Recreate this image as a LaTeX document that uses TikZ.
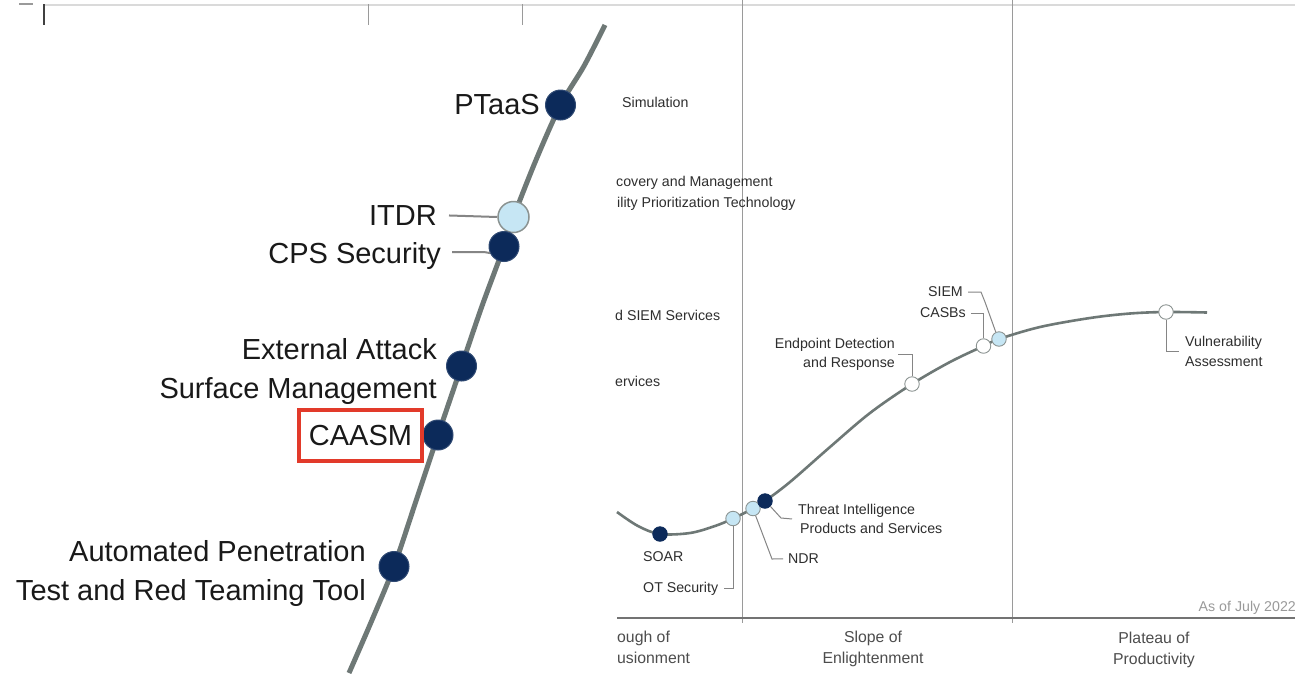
\documentclass[tikz,border=0pt]{standalone}
\usepackage{fontspec}
\setmainfont{Liberation Sans}
\definecolor{navy}{HTML}{0C2A5A}
\definecolor{lblue}{HTML}{C6E6F4}
\definecolor{curvegray}{HTML}{6E7876}
\definecolor{txt}{HTML}{2E2E2E}
\definecolor{gridgray}{HTML}{9A9A9A}
\definecolor{leadgray}{HTML}{858585}
\definecolor{boxred}{HTML}{E23A2A}
\definecolor{topline}{HTML}{DADADA}
\tikzset{
  sm/.style={font=\fontsize{14.2}{19.5}\selectfont, text=txt, inner sep=0pt},
  phase/.style={font=\fontsize{15.8}{20.5}\selectfont, text=txt!85!white, inner sep=0pt},
  bigtxt/.style={font=\fontsize{29}{39}\selectfont, text=black!90, inner sep=0pt},
  sdot/.style={circle, minimum size=14.5pt, inner sep=0pt, line width=0.9pt, draw=curvegray!80},
  ddot/.style={sdot, fill=navy, draw=navy},
  ldot/.style={sdot, fill=lblue},
  wdot/.style={sdot, fill=white},
  bdot/.style={circle, minimum size=30pt, inner sep=0pt, fill=navy, draw=navy!85!white, line width=1pt},
  bldot/.style={circle, minimum size=31pt, inner sep=0pt, fill=lblue, draw=curvegray!80, line width=1.5pt},
  leadline/.style={draw=leadgray, line width=1pt},
  bigleadline/.style={draw=leadgray, line width=2pt},
  gridline/.style={draw=gridgray, line width=1.1pt},
}
\begin{document}
\begin{tikzpicture}[x=1pt,y=-1pt]
\useasboundingbox (0,0) rectangle (1295,673);
\fill[white] (0,0) rectangle (1295,673);

% ---- top strip (table border) ----
\draw[topline, line width=2.5pt] (44,5) -- (1295,5);
\draw[gridgray, line width=2.5pt] (19,4) -- (33,4);
\draw[black!75, line width=1.3pt] (44,4) -- (44,25);
\draw[gridgray, line width=1pt] (368,4) -- (368,25);
\draw[gridgray, line width=1pt] (522,4) -- (522,25);

% ---- right panel: phase grid ----
\draw[gridline] (742.5,0) -- (742.5,623);
\draw[gridline] (1012.5,0) -- (1012.5,623);
\draw[draw=black!55, line width=1.3pt] (617,618) -- (1295,618);

% phase labels
\node[phase, anchor=north west, align=left] (trough) at (617,631.2) {ough of\\usionment};
\node[phase, anchor=north, align=center] (slope) at (873,631.2) {Slope of\\Enlightenment};
\node[phase, anchor=north, align=center] (plateau) at (1154,632) {Plateau of\\Productivity};
\node[sm, anchor=north east, text=gridgray] (asof) at (1296,600.8) {As of July 2022};

% cropped labels at the left edge
\node[sm, anchor=north west] (frA) at (622,96.8) {Simulation};
\node[sm, anchor=north west] (frB) at (616,175.8) {covery and Management};
\node[sm, anchor=north west] (frC) at (617,196.8) {ility Prioritization Technology};
\node[sm, anchor=north west] (frD) at (615,309.8) {d SIEM Services};
\node[sm, anchor=north west] (frE) at (615,375.8) {ervices};

% hype curve
\draw[curvegray, line width=2.6pt] plot[smooth, tension=0.55] coordinates {
  (617,512) (638,526) (660,534) (690,533) (715,526) (733,518.5) (753,508.5)
  (765,501) (790,482) (830,447) (870,413) (912,384) (950,362) (983.5,346)
  (999,339) (1040,327) (1090,318) (1130,313.5) (1166,312) (1207,312.5)};

% dots
\node[ddot] (soar) at (660,534) {};
\node[ldot] (ot) at (733,518.5) {};
\node[ldot] (ndr) at (753,508.5) {};
\node[ddot] (ti) at (765,501) {};
\node[wdot] (edr) at (912,384) {};
\node[wdot] (casb) at (983.5,346) {};
\node[ldot] (siem) at (999,339) {};
\node[wdot] (va) at (1166,312) {};

% labels
\node[sm, anchor=north west] (soarlab) at (643,551.8) {SOAR};
\node[sm, anchor=north west] (otlab) at (643,581.8) {OT Security};
\node[sm, anchor=north west] (ndrlab) at (788,553.8) {NDR};
\node[sm, anchor=north west, align=left] (tilab) at (798,503.8) {Threat Intelligence\\\hspace*{2pt}Products and Services};
\node[sm, anchor=north east, align=right] (edrlab) at (895,337.8) {Endpoint Detection\\and Response};
\node[sm, anchor=north east] (siemlab) at (963,286.8) {SIEM};
\node[sm, anchor=north east] (casblab) at (966,307.8) {CASBs};
\node[sm, anchor=north west, align=left] (valab) at (1185,336.3) {Vulnerability\\Assessment};

% leaders
\draw[leadline] ([xshift=6pt]otlab.east) -| (ot.south);
\draw[leadline] (ndr.-70) -- (772,559) -- ([xshift=-5pt]ndrlab.west);
\draw[leadline] (ti.-45) -- (781,518) -- ([xshift=-6pt]tilab.west);
\draw[leadline] ([xshift=3pt]edrlab.east) -| (edr.north);
\draw[leadline] ([xshift=5pt]siemlab.east) -- ++(13,0) -- ++(4,10) -- (siem.115);
\draw[leadline] ([xshift=5pt]casblab.east) -| (casb.north);
\draw[leadline] (va.south) |- ([xshift=-6pt]valab.west);

% ---- left panel (zoomed) ----
\draw[curvegray, line width=5pt] plot[smooth, tension=0.5] coordinates {
  (605,25) (584,66) (560.5,105) (536,160) (513.5,217) (504,246.5)
  (482,306) (461.5,366) (438,435) (416,501) (394,566.5) (372,620) (349,673)};

\node[bdot] (ptaas) at (560.5,105) {};
\node[bldot] (itdr) at (513.5,217) {};
\node[bdot] (cps) at (504,246.5) {};
\node[bdot] (easm) at (461.5,366) {};
\node[bdot] (caasmdot) at (438,435) {};
\node[bdot] (aptrt) at (394,566.5) {};

\node[bigtxt, anchor=north east] (ptaaslab) at (540,94.3) {PTaaS};
\node[bigtxt, anchor=north east] (itdrlab) at (437,205.3) {ITDR};
\node[bigtxt, anchor=north east] (cpslab) at (441,242.3) {CPS Security};
\node[bigtxt, anchor=north east, align=right] (easmlab) at (437,337.8) {External Attack\\Surface Management};
\node[bigtxt, draw=boxred, line width=3.5pt, minimum width=123pt, minimum height=51pt] (caasmlab) at (360.5,435.5) {CAASM};
\node[bigtxt, anchor=north east, align=right] (aptrtlab) at (366,540.3) {Automated Penetration\\Test and Red Teaming Tool};

\draw[bigleadline] ([xshift=12pt]itdrlab.east) -- (itdr.west);
\draw[bigleadline] ([xshift=11pt, yshift=4pt]cpslab.east) -- (484,252) -- (cps.205);
\end{tikzpicture}
\end{document}
